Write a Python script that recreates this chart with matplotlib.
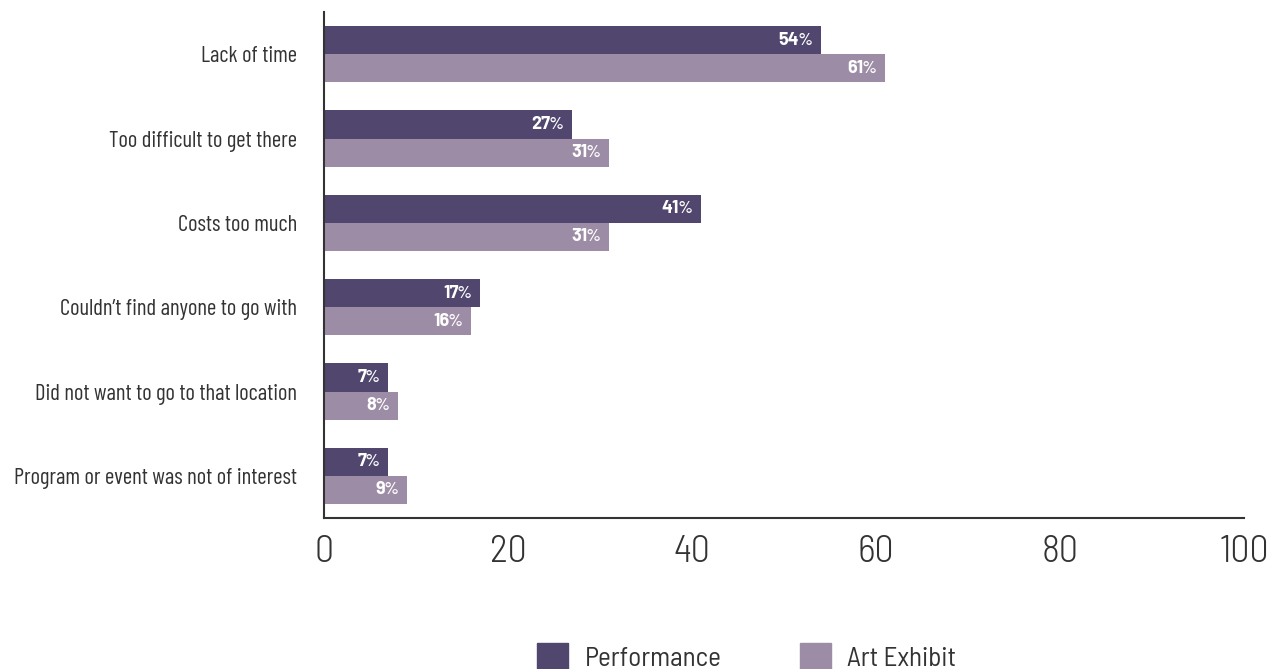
import matplotlib
matplotlib.use("Agg")
import matplotlib.pyplot as plt
from matplotlib.patches import Patch

plt.rcParams['font.family'] = ['Barlow Condensed', 'DejaVu Sans']

categories = ["Lack of time", "Too difficult to get there", "Costs too much",
              "Couldn\u2019t find anyone to go with", "Did not want to go to that location",
              "Program or event was not of interest"]
performance = [54, 27, 41, 17, 7, 7]
art_exhibit = [61, 31, 31, 16, 8, 9]
series_names = ["Performance", "Art Exhibit"]
xticks = [0, 20, 40, 60, 80, 100]
colors = ["#50466e", "#9d8ca5"]
text_color = "#333333"

fig = plt.figure(figsize=(12.68, 6.69), dpi=100)
ax = fig.add_axes([324 / 1268, 151 / 669, 920 / 1268, 506 / 669])

h = 1 / 3
y = list(range(len(categories)))
for vals, off, col in [(performance, -h / 2, colors[0]), (art_exhibit, h / 2, colors[1])]:
    yy = [v + off for v in y]
    ax.barh(yy, vals, height=h, color=col)
    for yi, v in zip(yy, vals):
        # bold number followed by a lighter percent sign
        pct = ax.annotate("%", xy=(v, yi), xytext=(-6, 0), textcoords="offset points",
                          ha="right", va="center", color="white", fontsize=13,
                          family="Barlow", fontweight=500)
        ax.annotate(str(v), xy=(0.1, 0.5), xycoords=pct, ha="right", va="center",
                    color="white", fontsize=13, family="Barlow", fontweight="bold")

ax.set_xlim(0, 100)
ax.set_ylim(len(categories) - 0.5, -0.5)
ax.set_yticks(y)
ax.set_yticklabels(categories, fontsize=16.3, color=text_color)
ax.set_xticks(xticks)
ax.set_xticklabels([str(t) for t in xticks], family="Barlow Semi Condensed", fontweight=300)
ax.tick_params(axis="x", length=0, pad=12, labelsize=27.5, labelcolor=text_color)
ax.tick_params(axis="y", length=0, pad=19.5)
for s in ["top", "right"]:
    ax.spines[s].set_visible(False)
for s in ["left", "bottom"]:
    ax.spines[s].set_color(text_color)
    ax.spines[s].set_linewidth(1.5)

handles = [Patch(color=c, label=n) for c, n in zip(colors, series_names)]
fig.legend(handles=handles, loc="center", bbox_to_anchor=(0.589, 0.018), ncol=2,
           frameon=False, handlelength=1.15, handleheight=1.15,
           handletextpad=0.6, columnspacing=2.9, labelcolor=text_color,
           prop={"family": "Barlow Semi Condensed", "size": 19.5})

fig.savefig("out.png", dpi=100)
